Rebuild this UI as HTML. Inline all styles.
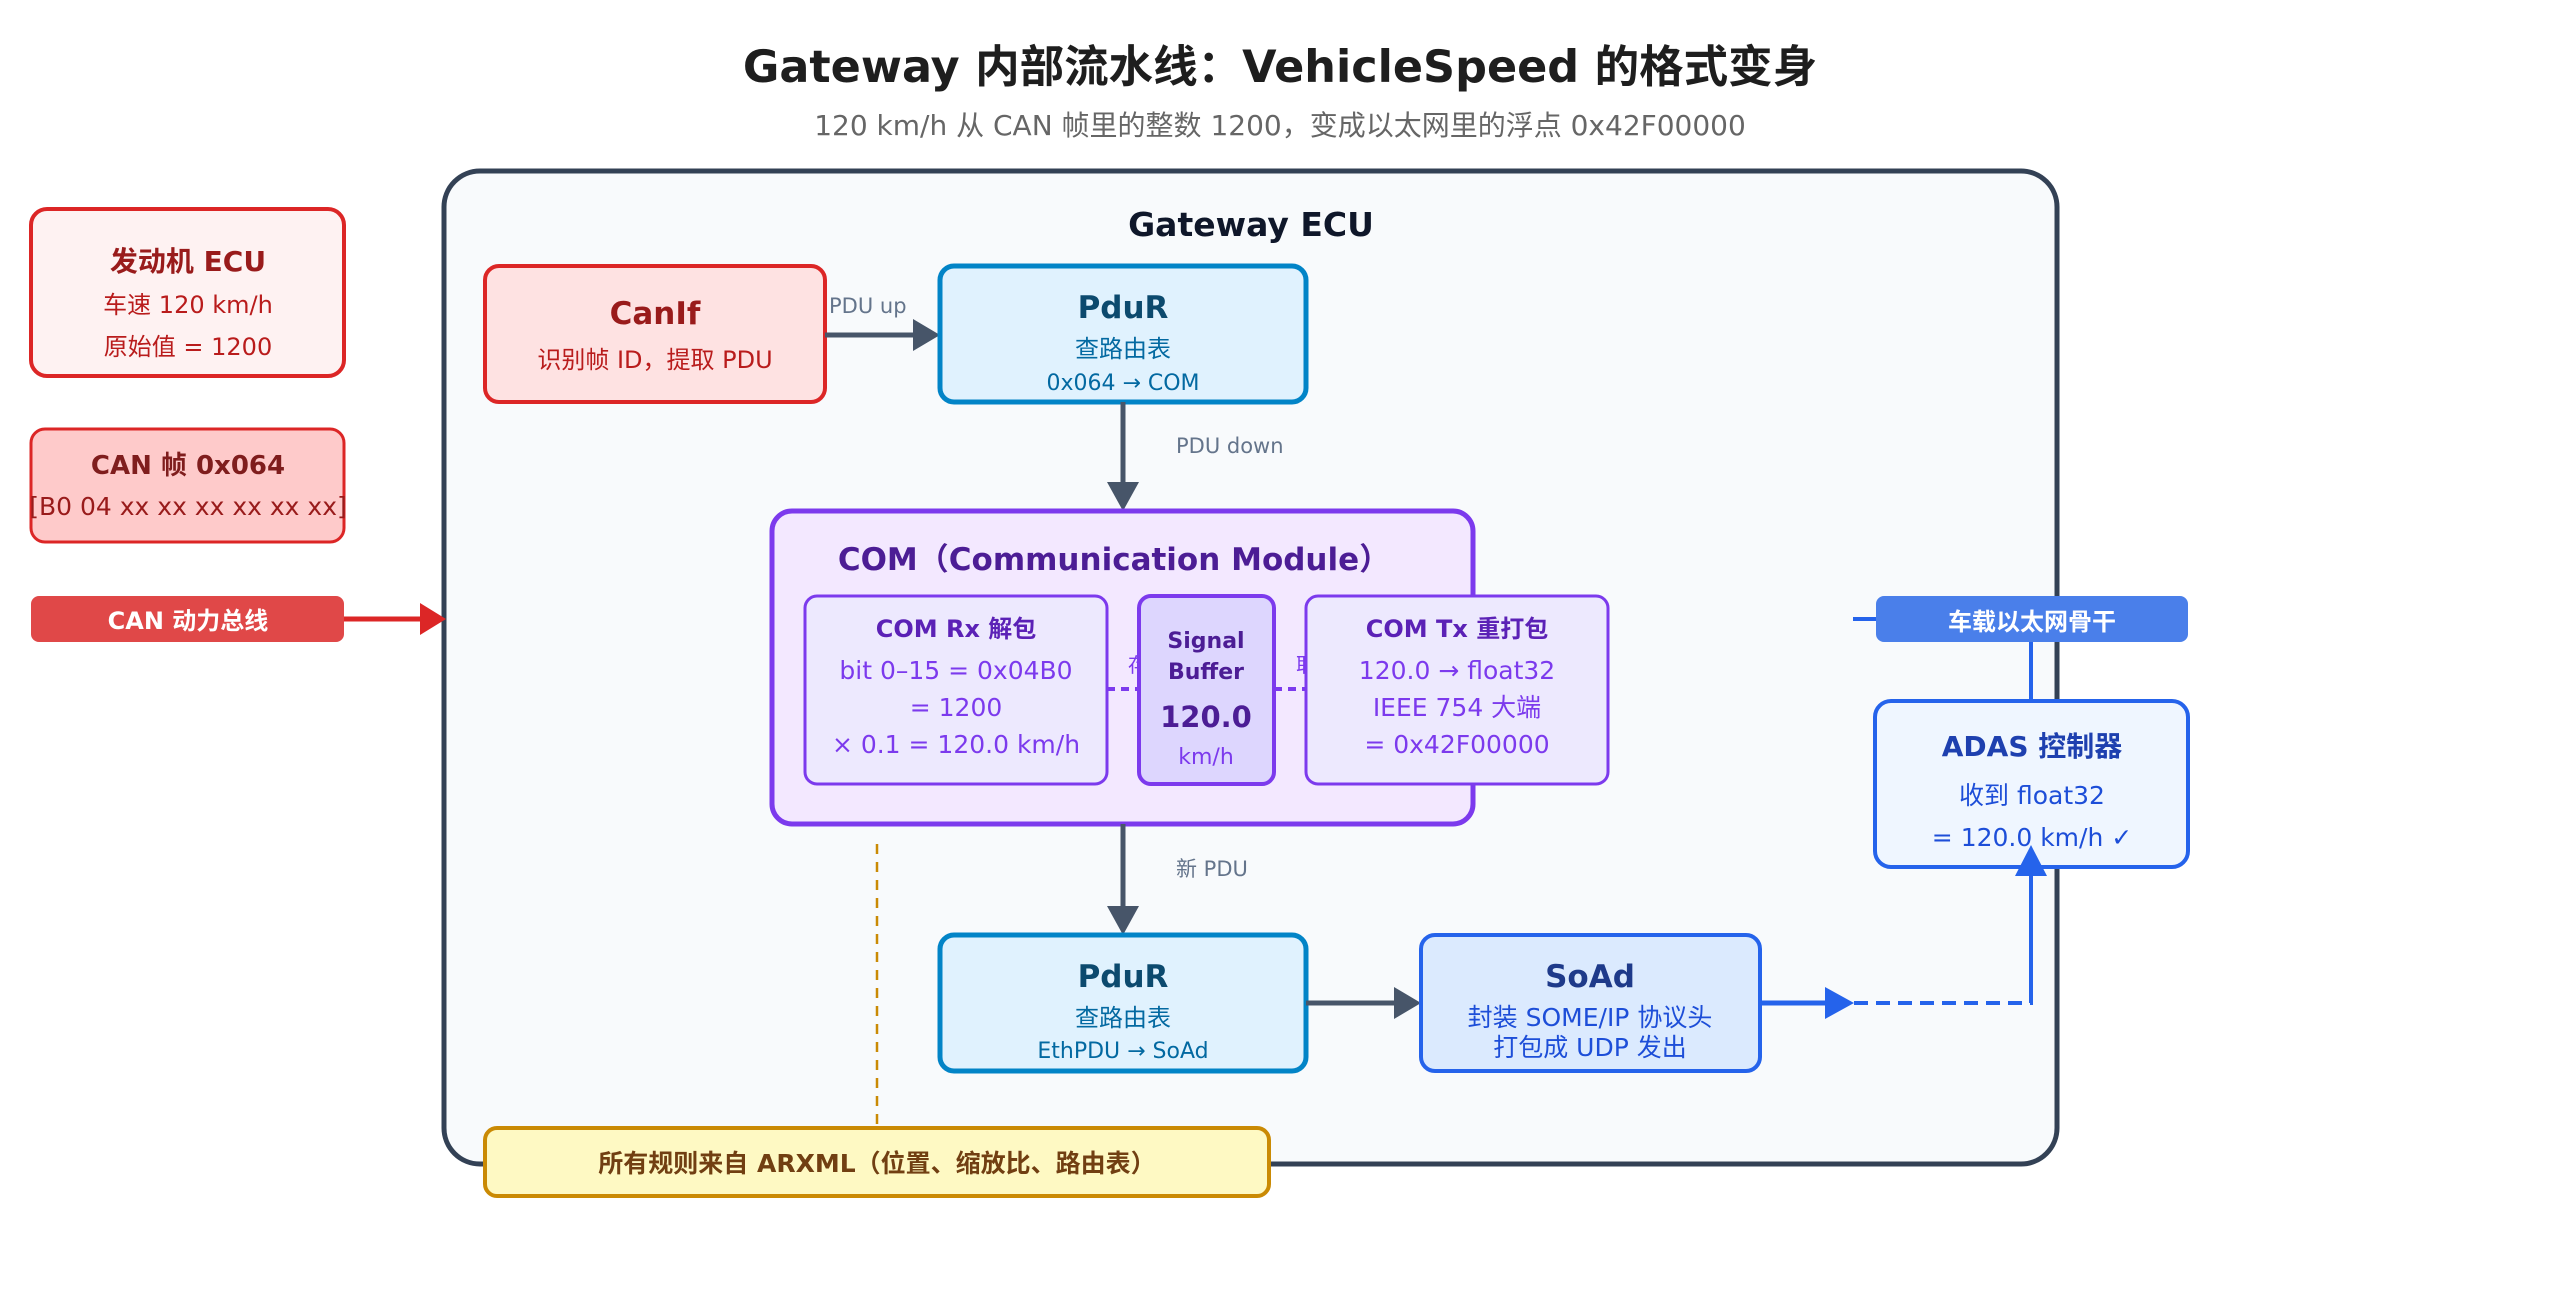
<!DOCTYPE html>
<html><head><meta charset="utf-8"><style>
html,body{margin:0;padding:0;background:#fff;}
svg{display:block;}
text{font-family:"DejaVu Sans","Noto Sans CJK SC",sans-serif;}
</style></head><body>
<svg width="2560" height="1306" viewBox="0 0 2560 1306" xmlns="http://www.w3.org/2000/svg">
<rect width="2560" height="1306" fill="#fff"/>
<text x="1280" y="82" text-anchor="middle" font-size="44.5" font-weight="bold" fill="#1e1e1e">Gateway 内部流水线：VehicleSpeed 的格式变身</text>
<text x="1280" y="135" text-anchor="middle" font-size="28" fill="#666">120 km/h 从 CAN 帧里的整数 1200，变成以太网里的浮点 0x42F00000</text>

<!-- Gateway -->
<rect x="444" y="171" width="1613" height="993" rx="36" fill="#f8fafc" stroke="#334155" stroke-width="5"/>
<text x="1251" y="236" text-anchor="middle" font-size="33" font-weight="bold" fill="#0f172a">Gateway ECU</text>

<!-- Left -->
<rect x="31" y="209" width="313" height="167" rx="16" fill="#fef2f2" stroke="#dc2626" stroke-width="4"/>
<text x="188" y="271" text-anchor="middle" font-size="28" font-weight="bold" fill="#991b1b">发动机 ECU</text>
<text x="188" y="313" text-anchor="middle" font-size="24" fill="#b91c1c">车速 120 km/h</text>
<text x="188" y="355" text-anchor="middle" font-size="24" fill="#b91c1c">原始值 = 1200</text>

<rect x="31" y="429" width="313" height="113" rx="14" fill="#fecaca" stroke="#dc2626" stroke-width="3"/>
<text x="188" y="474" text-anchor="middle" font-size="26" font-weight="bold" fill="#7f1d1d">CAN 帧 0x064</text>
<text x="188" y="515" text-anchor="middle" font-size="25" fill="#991b1b">[B0 04 xx xx xx xx xx xx]</text>

<rect x="31" y="596" width="313" height="46" rx="8" fill="#e04848"/>
<text x="188" y="629" text-anchor="middle" font-size="24" font-weight="bold" fill="#fff">CAN 动力总线</text>
<line x1="344" y1="619" x2="420" y2="619" stroke="#dc2626" stroke-width="5"/>
<path d="M420,603 L446,619 L420,635 Z" fill="#dc2626"/>

<!-- CanIf -->
<rect x="485" y="266" width="340" height="136" rx="14" fill="#fee2e2" stroke="#dc2626" stroke-width="4"/>
<text x="655" y="324" text-anchor="middle" font-size="31" font-weight="bold" fill="#991b1b">CanIf</text>
<text x="655" y="368" text-anchor="middle" font-size="24" fill="#b91c1c">识别帧 ID，提取 PDU</text>
<text x="829" y="313" font-size="21" fill="#64748b">PDU up</text>
<line x1="825" y1="335" x2="915" y2="335" stroke="#475569" stroke-width="5"/>
<path d="M913,319 L940,335 L913,351 Z" fill="#475569"/>

<!-- PduR top -->
<rect x="940" y="266" width="366" height="136" rx="14" fill="#e0f2fe" stroke="#0284c7" stroke-width="5"/>
<text x="1123" y="318" text-anchor="middle" font-size="31" font-weight="bold" fill="#0c4a6e">PduR</text>
<text x="1123" y="357" text-anchor="middle" font-size="24" fill="#0369a1">查路由表</text>
<text x="1123" y="390" text-anchor="middle" font-size="22" fill="#0369a1">0x064 → COM</text>
<line x1="1123" y1="402" x2="1123" y2="485" stroke="#475569" stroke-width="5"/>
<path d="M1107,482 L1123,511 L1139,482 Z" fill="#475569"/>
<text x="1176" y="453" font-size="21" fill="#64748b">PDU down</text>

<!-- COM -->
<rect x="772" y="511" width="701" height="313" rx="20" fill="#f3e8ff" stroke="#7c3aed" stroke-width="5"/>
<text x="1114" y="570" text-anchor="middle" font-size="31" font-weight="bold" fill="#4c1d95">COM（Communication Module）</text>
<text x="1128" y="672" font-size="20" fill="#7c3aed">存入</text>
<text x="1296" y="672" font-size="20" fill="#7c3aed">取出</text>
<line x1="1107" y1="689" x2="1138" y2="689" stroke="#7c3aed" stroke-width="4" stroke-dasharray="8,6"/>
<line x1="1274" y1="689" x2="1306" y2="689" stroke="#7c3aed" stroke-width="4" stroke-dasharray="8,6"/>
<rect x="805" y="596" width="302" height="188" rx="12" fill="#ede9fe" stroke="#7c3aed" stroke-width="3"/>
<text x="956" y="637" text-anchor="middle" font-size="24" font-weight="bold" fill="#5b21b6">COM Rx 解包</text>
<text x="956" y="679" text-anchor="middle" font-size="25" fill="#7c3aed">bit 0–15 = 0x04B0</text>
<text x="956" y="716" text-anchor="middle" font-size="25" fill="#7c3aed">= 1200</text>
<text x="956" y="753" text-anchor="middle" font-size="25" fill="#7c3aed">× 0.1 = 120.0 km/h</text>
<rect x="1139" y="596" width="135" height="188" rx="12" fill="#ddd6fe" stroke="#7c3aed" stroke-width="4"/>
<text x="1206" y="648" text-anchor="middle" font-size="22" font-weight="bold" fill="#4c1d95">Signal</text>
<text x="1206" y="679" text-anchor="middle" font-size="22" font-weight="bold" fill="#4c1d95">Buffer</text>
<text x="1206" y="727" text-anchor="middle" font-size="29" font-weight="bold" fill="#4c1d95">120.0</text>
<text x="1206" y="764" text-anchor="middle" font-size="22" fill="#7c3aed">km/h</text>
<rect x="1306" y="596" width="302" height="188" rx="12" fill="#ede9fe" stroke="#7c3aed" stroke-width="3"/>
<text x="1457" y="637" text-anchor="middle" font-size="24" font-weight="bold" fill="#5b21b6">COM Tx 重打包</text>
<text x="1457" y="679" text-anchor="middle" font-size="25" fill="#7c3aed">120.0 → float32</text>
<text x="1457" y="716" text-anchor="middle" font-size="25" fill="#7c3aed">IEEE 754 大端</text>
<text x="1457" y="753" text-anchor="middle" font-size="25" fill="#7c3aed">= 0x42F00000</text>

<line x1="1123" y1="824" x2="1123" y2="908" stroke="#475569" stroke-width="5"/>
<path d="M1107,906 L1123,935 L1139,906 Z" fill="#475569"/>
<text x="1176" y="876" font-size="21" fill="#64748b">新 PDU</text>

<!-- orange dashed -->
<line x1="877" y1="844" x2="877" y2="1128" stroke="#ca8a04" stroke-width="2.5" stroke-dasharray="10,8"/>

<!-- PduR bottom -->
<rect x="940" y="935" width="366" height="136" rx="14" fill="#e0f2fe" stroke="#0284c7" stroke-width="5"/>
<text x="1123" y="987" text-anchor="middle" font-size="31" font-weight="bold" fill="#0c4a6e">PduR</text>
<text x="1123" y="1026" text-anchor="middle" font-size="24" fill="#0369a1">查路由表</text>
<text x="1123" y="1058" text-anchor="middle" font-size="22" fill="#0369a1">EthPDU → SoAd</text>
<line x1="1306" y1="1003" x2="1396" y2="1003" stroke="#475569" stroke-width="5"/>
<path d="M1394,987 L1421,1003 L1394,1019 Z" fill="#475569"/>

<!-- SoAd -->
<rect x="1421" y="935" width="339" height="136" rx="14" fill="#dbeafe" stroke="#2563eb" stroke-width="4"/>
<text x="1590" y="987" text-anchor="middle" font-size="31" font-weight="bold" fill="#1e3a8a">SoAd</text>
<text x="1590" y="1026" text-anchor="middle" font-size="25" fill="#1d4ed8">封装 SOME/IP 协议头</text>
<text x="1590" y="1056" text-anchor="middle" font-size="25" fill="#1d4ed8">打包成 UDP 发出</text>
<line x1="1760" y1="1003" x2="1828" y2="1003" stroke="#2563eb" stroke-width="5"/>
<path d="M1825,987 L1854,1003 L1825,1019 Z" fill="#2563eb"/>
<polyline points="1854,1003 2031,1003 2031,870" fill="none" stroke="#2563eb" stroke-width="4" stroke-dasharray="14,8"/>

<!-- backbone -->
<line x1="1853" y1="619" x2="1876" y2="619" stroke="#2563eb" stroke-width="4"/>
<line x1="2031" y1="642" x2="2031" y2="700" stroke="#2563eb" stroke-width="4"/>
<rect x="1876" y="596" width="312" height="46" rx="8" fill="#4a7fea"/>
<text x="2032" y="630" text-anchor="middle" font-size="24" font-weight="bold" fill="#fff">车载以太网骨干</text>

<!-- ADAS -->
<rect x="1875" y="701" width="313" height="166" rx="16" fill="#eff6ff" stroke="#2563eb" stroke-width="4"/>
<text x="2032" y="756" text-anchor="middle" font-size="28" font-weight="bold" fill="#1e40af">ADAS 控制器</text>
<text x="2032" y="804" text-anchor="middle" font-size="25" fill="#1d4ed8">收到 float32</text>
<text x="2032" y="846" text-anchor="middle" font-size="25" fill="#1d4ed8">= 120.0 km/h ✓</text>
<line x1="2031" y1="1003" x2="2031" y2="870" stroke="#2563eb" stroke-width="4"/>
<path d="M2015,876 L2031,845 L2047,876 Z" fill="#2563eb"/>

<!-- note -->
<rect x="485" y="1128" width="784" height="68" rx="12" fill="#fef9c3" stroke="#ca8a04" stroke-width="4"/>
<text x="877" y="1172" text-anchor="middle" font-size="25" font-weight="bold" fill="#713f12">所有规则来自 ARXML（位置、缩放比、路由表）</text>
</svg>
</body></html>
